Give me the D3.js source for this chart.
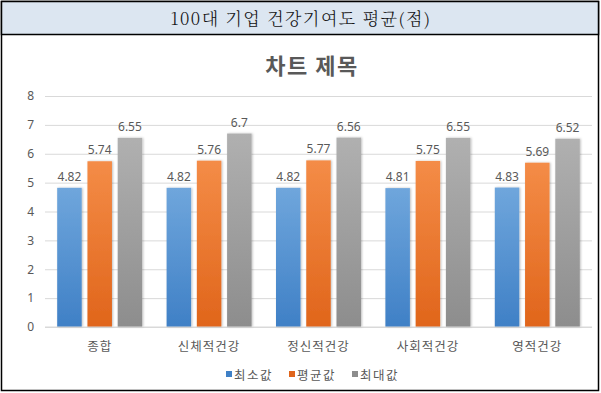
<!DOCTYPE html>
<html>
<head>
<meta charset="utf-8">
<script src="https://cdn.jsdelivr.net/npm/d3@7"></script>
<style>
  body { margin: 0; background: #fff; }
  text { font-family: "Noto Sans CJK KR", "Noto Sans", sans-serif; }
</style>
</head>
<body>
<div id="chart"></div>
<script>
const categories = ["종합", "신체적건강", "정신적건강", "사회적건강", "영적건강"];
const seriesNames = ["최소값", "평균값", "최대값"];
const minValues = [4.82, 4.82, 4.82, 4.81, 4.83];
const avgValues = [5.74, 5.76, 5.77, 5.75, 5.69];
const maxValues = [6.55, 6.7, 6.56, 6.55, 6.52];
const yTicks = [0, 1, 2, 3, 4, 5, 6, 7, 8];

const svgWidth = 601;
const svgHeight = 393;
const margin = { top: 96, right: 9, bottom: 66, left: 45 };
const width = svgWidth - margin.left - margin.right;
const height = svgHeight - margin.top - margin.bottom;

const colors = [
  ["#6fa6dc", "#3f80c6"],
  ["#f48c47", "#e0651b"],
  ["#b0b0b0", "#8d8d8d"]
];

const svg = d3.select("#chart")
  .append("svg")
  .attr("width", svgWidth)
  .attr("height", svgHeight);

// gradients for the bars
const defs = svg.append("defs");
colors.forEach((c, i) => {
  const g = defs.append("linearGradient")
    .attr("id", "grad" + i)
    .attr("x1", 0).attr("y1", 0).attr("x2", 0).attr("y2", 1);
  g.append("stop").attr("offset", "0%").attr("stop-color", c[0]);
  g.append("stop").attr("offset", "100%").attr("stop-color", c[1]);
});
const shadow = defs.append("filter").attr("id", "shadow")
  .attr("x", "-20%").attr("width", "140%");
shadow.append("feDropShadow")
  .attr("dx", 1).attr("dy", 0).attr("stdDeviation", 1.2)
  .attr("flood-color", "#000").attr("flood-opacity", 0.25);

// outer frame and header band
svg.append("rect")
  .attr("x", 1.5).attr("y", 1.5)
  .attr("width", 597).attr("height", 389)
  .attr("fill", "#fff")
  .attr("stroke", "#000").attr("stroke-width", 1.5);
svg.append("rect")
  .attr("x", 1.5).attr("y", 1.5)
  .attr("width", 597).attr("height", 33)
  .attr("fill", "#dce6f1")
  .attr("stroke", "#000").attr("stroke-width", 1.5);
svg.append("text")
  .attr("x", 301).attr("y", 25)
  .attr("text-anchor", "middle")
  .attr("font-size", 17)
  .attr("font-weight", 300)
  .attr("letter-spacing", 1.5)
  .attr("fill", "#111")
  .style("font-family", "'Noto Serif CJK KR', 'Noto Sans CJK KR', serif")
  .text("100대 기업 건강기여도 평균(점)");

// chart title
svg.append("text")
  .attr("x", 312).attr("y", 74)
  .attr("text-anchor", "middle")
  .attr("font-size", 22)
  .attr("font-weight", "bold")
  .attr("letter-spacing", 1.5)
  .attr("fill", "#595959")
  .text("차트 제목");

const chartGroup = svg.append("g")
  .attr("transform", `translate(${margin.left}, ${margin.top})`);

const x0 = d3.scaleBand().domain(categories).range([0, width]).padding(0);
const x1 = d3.scaleBand().domain(seriesNames).range([x0.bandwidth() / 2 - 42.5, x0.bandwidth() / 2 + 42.5]).paddingInner(0.19);
const y = d3.scaleLinear().domain([0, 8]).range([height, 0]);

// gridlines
const grid = chartGroup.append("g")
  .call(d3.axisLeft(y).tickValues(yTicks).tickSize(-width).tickFormat(""));
grid.select(".domain").remove();
grid.selectAll("line").attr("stroke", "#d9d9d9");

// y tick labels
const yAxis = chartGroup.append("g")
  .call(d3.axisLeft(y).tickValues(yTicks).tickSize(0).tickPadding(11));
yAxis.select(".domain").remove();
yAxis.selectAll("text")
  .attr("font-size", 12)
  .attr("fill", "#595959")
  .style("font-family", "'Noto Sans', sans-serif");

const data = categories.map((c, i) => ({
  cat: c,
  values: [minValues[i], avgValues[i], maxValues[i]]
}));

const groups = chartGroup.selectAll(".cat")
  .data(data)
  .enter()
  .append("g")
  .attr("transform", d => `translate(${x0(d.cat)}, 0)`);

groups.selectAll("rect")
  .data(d => d.values.map((v, i) => ({ name: seriesNames[i], v: v, i: i })))
  .enter()
  .append("rect")
  .attr("x", d => x1(d.name))
  .attr("y", d => y(d.v))
  .attr("width", x1.bandwidth())
  .attr("height", d => height - y(d.v))
  .attr("fill", d => `url(#grad${d.i})`)
  .attr("filter", "url(#shadow)");

groups.selectAll(".lbl")
  .data(d => d.values.map((v, i) => ({ name: seriesNames[i], v: v })))
  .enter()
  .append("text")
  .attr("x", d => x1(d.name) + x1.bandwidth() / 2)
  .attr("y", d => y(d.v) - 7)
  .attr("text-anchor", "middle")
  .attr("font-size", 12)
  .attr("fill", "#595959")
  .style("font-family", "'Noto Sans', sans-serif")
  .text(d => d.v);

// baseline
chartGroup.append("line")
  .attr("x1", 0).attr("x2", width)
  .attr("y1", height).attr("y2", height)
  .attr("stroke", "#d9d9d9");

// x axis labels
const xAxis = chartGroup.append("g")
  .attr("transform", `translate(0, ${height})`)
  .call(d3.axisBottom(x0).tickSize(0).tickPadding(15));
xAxis.select(".domain").remove();
xAxis.selectAll("text")
  .attr("font-size", 12.5)
  .attr("letter-spacing", 1)
  .attr("fill", "#595959")
  .style("font-family", "'Noto Sans CJK KR', sans-serif");

// legend
const legendX = [226, 289, 352];
const legend = svg.append("g");
seriesNames.forEach((name, i) => {
  legend.append("rect")
    .attr("x", legendX[i]).attr("y", 371)
    .attr("width", 6).attr("height", 6)
    .attr("fill", colors[i][1]);
  legend.append("text")
    .attr("x", legendX[i] + 8).attr("y", 379.5)
    .attr("font-size", 12.5)
    .attr("letter-spacing", 1.5)
    .attr("fill", "#595959")
    .text(name);
});
</script>
</body>
</html>
